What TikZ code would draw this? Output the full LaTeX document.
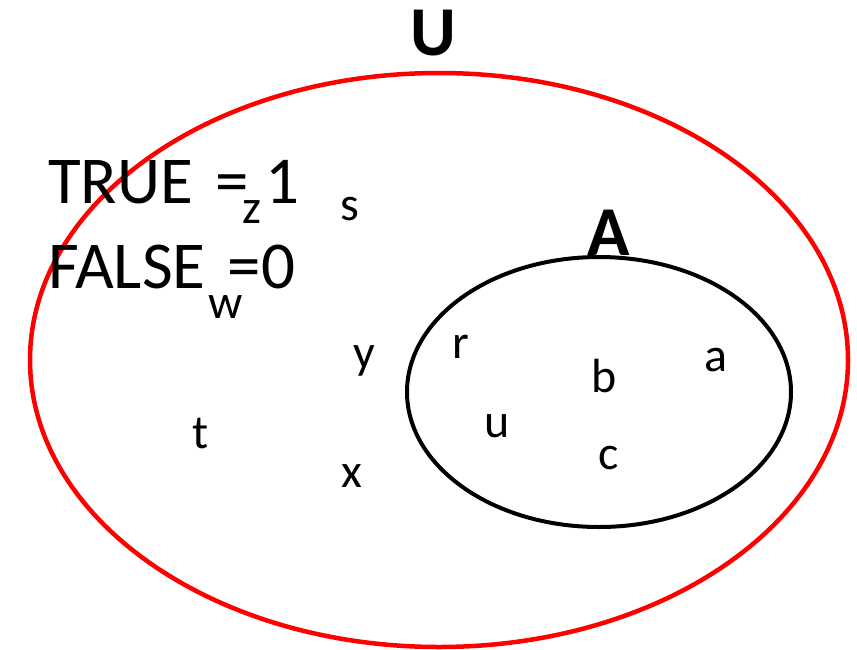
\documentclass[tikz,border=0pt]{standalone}
\usepackage{fontspec}
\setmainfont{Carlito}
\begin{document}
\begin{tikzpicture}[x=1pt,y=-1pt,
  big/.style={inner sep=0pt,anchor=base west,font=\fontsize{67}{70}\selectfont},
  lbl/.style={inner sep=0pt,anchor=base,font=\fontsize{48}{50}\selectfont},
  setname/.style={inner sep=0pt,anchor=base,font=\bfseries\fontsize{70}{72}\selectfont}]
\useasboundingbox (0,0) rectangle (857,649);
\draw[red,line width=4.5pt] (439,360) ellipse [x radius=409pt,y radius=287pt];
\draw[black,line width=4pt] (599,392) ellipse [x radius=192pt,y radius=135pt];
\node[setname] (U) at (433,55) {U};
\node[setname] (A) at (609,255) {A};
\node[big] (true) at (48,203) {TRUE};
\node[big] (eq1) at (215,203) {=};
\node[big] (one) at (265,203) {1};
\node[big] (false) at (48,288) {FALSE};
\node[big] (eq0) at (227,288) {=};
\node[big] (zero) at (261,288) {0};
\node[lbl] (z) at (252,223) {z};
\node[lbl] (w) at (226,318) {w};
\node[lbl] (s) at (350,220) {s};
\node[lbl] (y) at (364,368) {y};
\node[lbl] (r) at (461,358) {r};
\node[lbl] (b) at (604,392) {b};
\node[lbl] (a) at (716,371) {a};
\node[lbl] (u) at (497,437) {u};
\node[lbl] (c) at (609,469) {c};
\node[lbl] (t) at (201,448) {t};
\node[lbl] (x) at (352,487) {x};
\end{tikzpicture}
\end{document}
